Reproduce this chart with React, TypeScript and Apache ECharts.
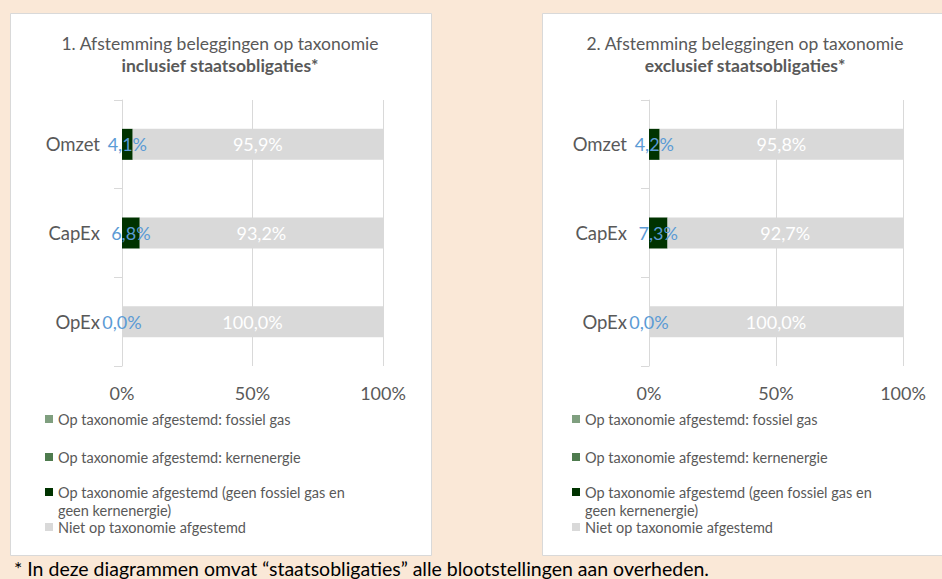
import React, { useEffect, useRef } from 'react';
import * as echarts from 'echarts';

const categories = ['Omzet', 'CapEx', 'OpEx'];
const seriesNames = [
  'Op taxonomie afgestemd: fossiel gas',
  'Op taxonomie afgestemd: kernenergie',
  'Op taxonomie afgestemd (geen fossiel gas en geen kernenergie)',
  'Niet op taxonomie afgestemd',
];
const legendLabels = [
  'Op taxonomie afgestemd: fossiel gas',
  'Op taxonomie afgestemd: kernenergie',
  '\nOp taxonomie afgestemd (geen fossiel gas en\ngeen kernenergie)',
  'Niet op taxonomie afgestemd',
];
const seriesColors = ['#7F9F7F', '#4E7B4E', '#003300', '#D9D9D9'];

const leftFossielGas = [0, 0, 0];
const leftKernenergie = [0, 0, 0];
const leftAligned = [4.1, 6.8, 0.0];
const leftNotAligned = [95.9, 93.2, 100.0];

const rightFossielGas = [0, 0, 0];
const rightKernenergie = [0, 0, 0];
const rightAligned = [4.2, 7.3, 0.0];
const rightNotAligned = [95.8, 92.7, 100.0];

const xMin = 0;
const xMax = 100;
const xInterval = 50;

const leftTitle = ['1. Afstemming beleggingen op taxonomie', 'inclusief staatsobligaties*'];
const rightTitle = ['2. Afstemming beleggingen op taxonomie', 'exclusief staatsobligaties*'];
const footnote = '* In deze diagrammen omvat \u201cstaatsobligaties\u201d alle blootstellingen aan overheden.';

const FONT = 'Lato, "Noto Sans", sans-serif';
const GRAY_TEXT = '#595959';
const LINE = '#D9D9D9';

const fmt = (v: number) => v.toFixed(1).replace('.', ',') + '%';

function buildSeries(gridIdx: number, data: number[][]) {
  return data.map((vals, i) => ({
    name: seriesNames[i],
    type: 'bar',
    xAxisIndex: gridIdx,
    yAxisIndex: gridIdx,
    stack: 'stack' + gridIdx,
    barWidth: 31,
    data: vals,
    itemStyle: { color: seriesColors[i] },
    label:
      i === 2
        ? {
            show: true,
            position: 'inside',
            color: '#5B9BD5',
            fontFamily: FONT,
            fontSize: 18,
            formatter: (p: any) => fmt(p.value),
          }
        : i === 3
        ? {
            show: true,
            position: 'inside',
            color: '#FFFFFF',
            fontFamily: FONT,
            fontSize: 18,
            formatter: (p: any) => fmt(p.value),
          }
        : { show: false },
  }));
}

function buildLegends(left: number, centers: number[]) {
  return seriesNames.map((name, i) => {
    const lh = 18;
    const top = i === 2 ? centers[i] - (lh * 3) / 2 : centers[i] - lh / 2;
    return {
      left,
      top,
      orient: 'vertical',
      padding: 0,
      itemWidth: 8,
      itemHeight: 8,
      itemGap: 4,
      icon: 'rect',
      selectedMode: false,
      data: [name],
      formatter: () => legendLabels[i],
      textStyle: { color: GRAY_TEXT, fontFamily: FONT, fontSize: 14.5, lineHeight: lh },
    };
  });
}

function yAxis(gridIndex: number) {
  return {
    type: 'category',
    gridIndex,
    data: categories,
    inverse: true,
    axisLine: { show: true, lineStyle: { color: LINE, width: 1 } },
    axisTick: { show: true, length: 8, lineStyle: { color: LINE } },
    axisLabel: { color: GRAY_TEXT, fontFamily: FONT, fontSize: 18.5, margin: 22 },
  };
}

function xAxis(gridIndex: number) {
  return {
    type: 'value',
    gridIndex,
    min: xMin,
    max: xMax,
    interval: xInterval,
    axisLine: { show: false },
    axisTick: { show: false },
    splitLine: { show: true, lineStyle: { color: LINE, width: 1 } },
    axisLabel: {
      color: GRAY_TEXT,
      fontFamily: FONT,
      fontSize: 18,
      margin: 18,
      formatter: '{value}%',
    },
  };
}

function titleText(x: number, y: number, text: string, bold: boolean) {
  return {
    type: 'text',
    x,
    y,
    style: {
      text,
      fill: GRAY_TEXT,
      font: `${bold ? 'bold ' : ''}17.5px ${FONT}`,
      align: 'center',
      verticalAlign: 'middle',
      textAlign: 'center',
      textVerticalAlign: 'middle',
    },
  };
}

export default function App() {
  const ref = useRef<HTMLDivElement>(null);
  useEffect(() => {
    if (!ref.current) return;
    const chart = echarts.init(ref.current, undefined, { renderer: 'svg' });
    chart.setOption({
      animation: false,
      backgroundColor: '#FAE8D7',
      graphic: [
        {
          type: 'rect',
          z: -10,
          shape: { x: 10.5, y: 13.5, width: 421, height: 542 },
          style: { fill: '#FFFFFF', stroke: LINE, lineWidth: 1 },
        },
        {
          type: 'rect',
          z: -10,
          shape: { x: 542.5, y: 13.5, width: 420, height: 542 },
          style: { fill: '#FFFFFF', stroke: LINE, lineWidth: 1 },
        },
        titleText(220, 43, leftTitle[0], false),
        titleText(220, 65, leftTitle[1], true),
        titleText(745, 43, rightTitle[0], false),
        titleText(745, 65, rightTitle[1], true),
        {
          type: 'text',
          x: 14,
          y: 568,
          style: {
            text: footnote,
            fill: '#000000',
            font: `19.5px ${FONT}`,
            verticalAlign: 'middle',
            textVerticalAlign: 'middle',
          },
        },
      ],
      legend: [
        ...buildLegends(45, [419, 457, 492, 527]),
        ...buildLegends(572, [419, 457, 492, 527]),
      ],
      grid: [
        { left: 122, top: 100, width: 261, height: 266, containLabel: false },
        { left: 649, top: 100, width: 254, height: 266, containLabel: false },
      ],
      xAxis: [xAxis(0), xAxis(1)],
      yAxis: [yAxis(0), yAxis(1)],
      series: [
        ...buildSeries(0, [leftFossielGas, leftKernenergie, leftAligned, leftNotAligned]),
        ...buildSeries(1, [rightFossielGas, rightKernenergie, rightAligned, rightNotAligned]),
      ],
    });
    return () => chart.dispose();
  }, []);
  return (
    <div
      ref={ref}
      style={{ position: 'fixed', left: 0, top: 0, width: 942, height: 579 }}
    />
  );
}
